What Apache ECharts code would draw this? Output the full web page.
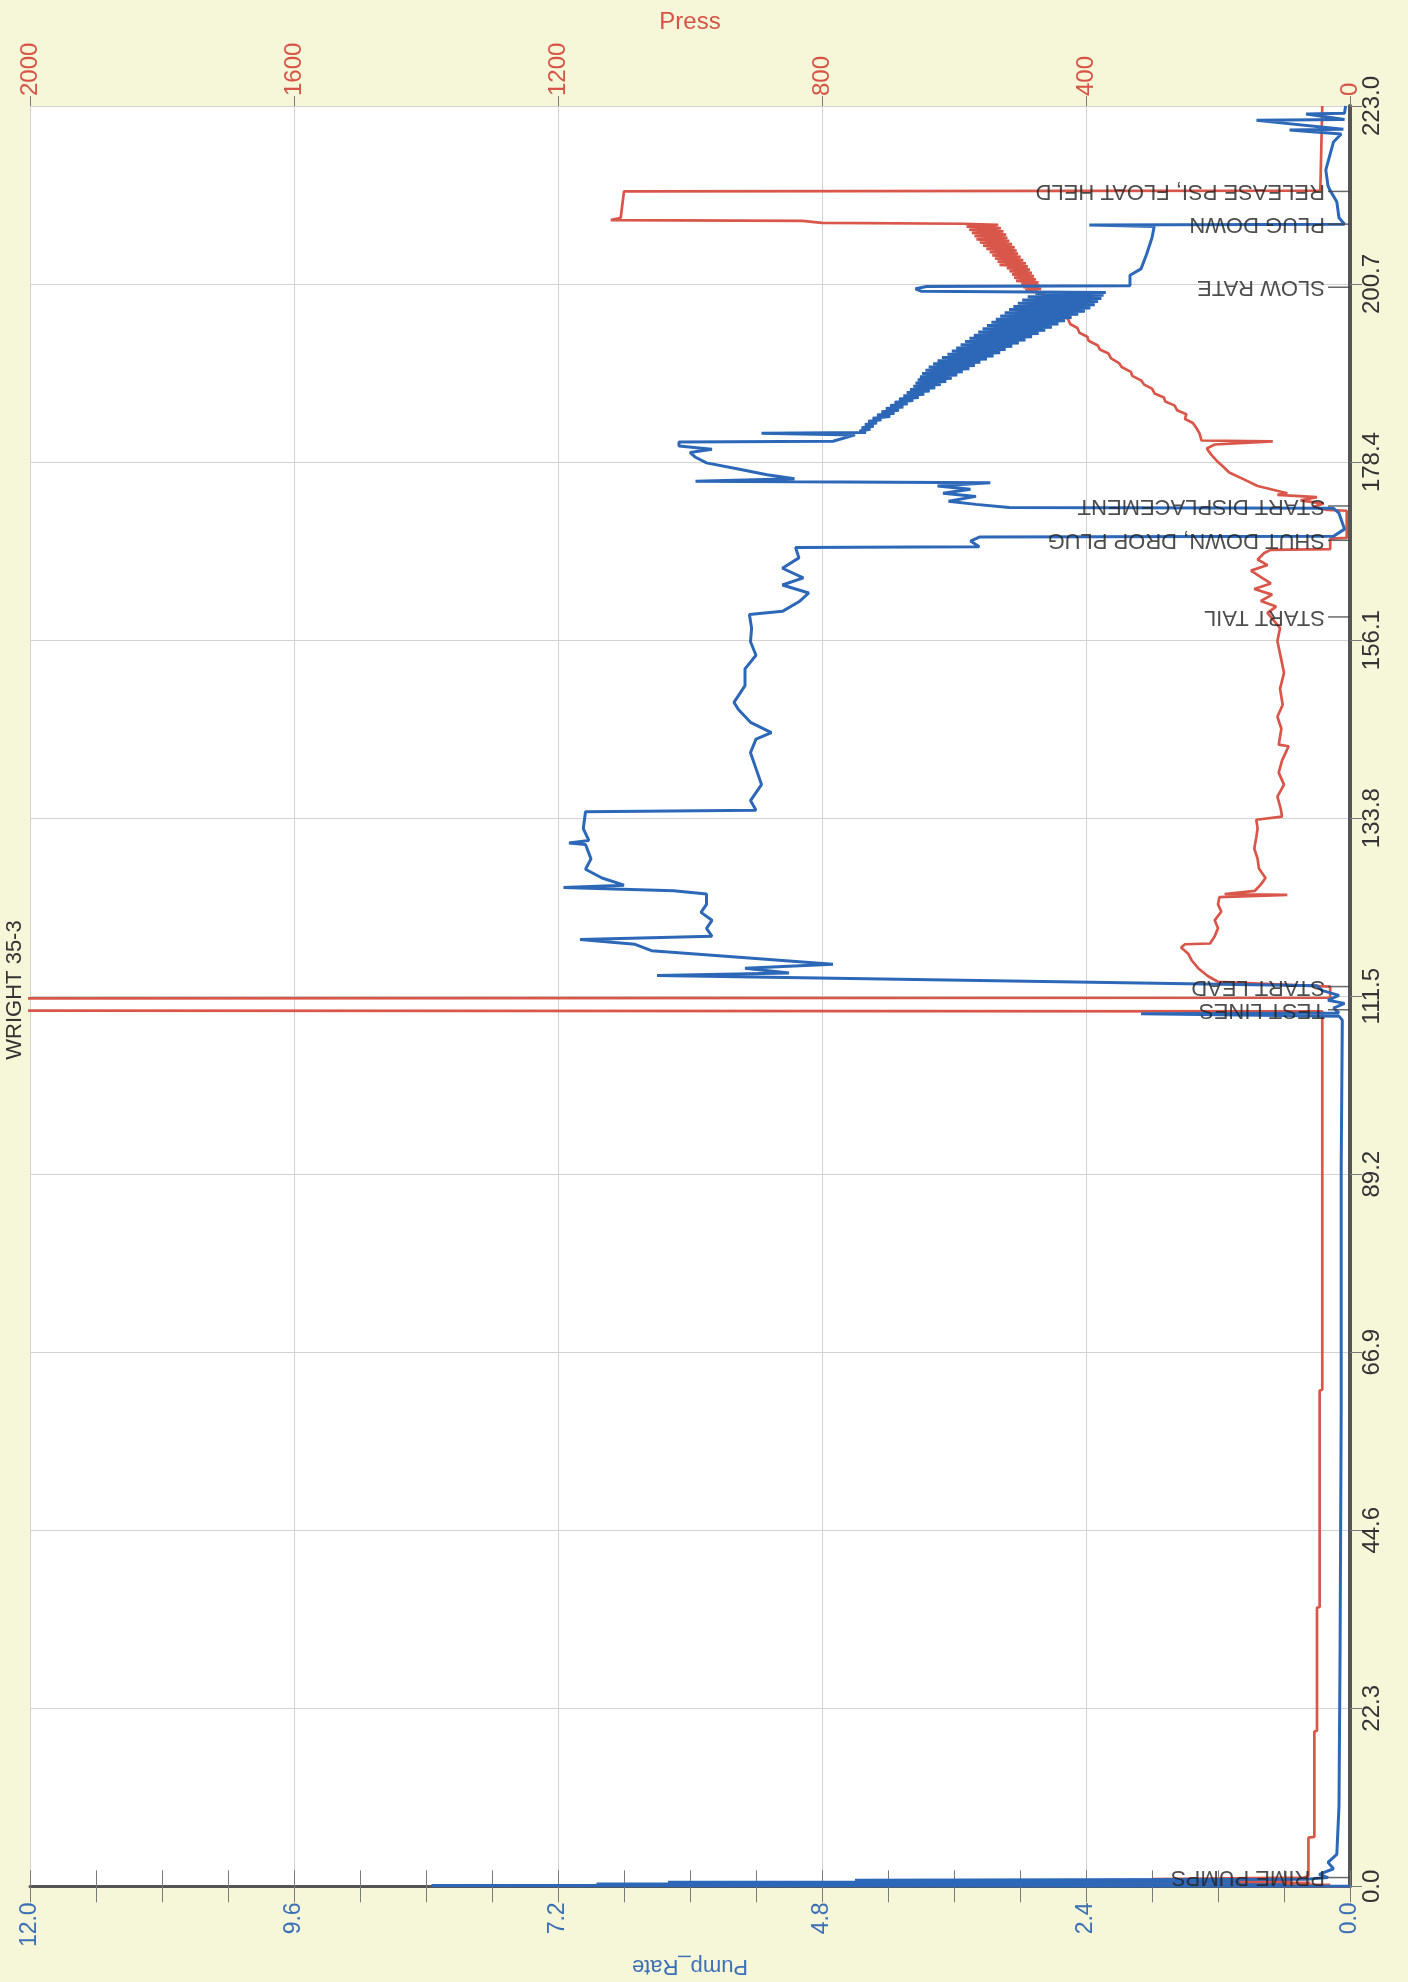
<!DOCTYPE html>
<html>
<head>
<meta charset="utf-8">
<title>WRIGHT 35-3</title>
<script src="https://cdn.jsdelivr.net/npm/echarts@6/dist/echarts.min.js"></script>
<style>
  html, body { margin: 0; padding: 0; background: #f6f6d8; }
  #main { width: 1408px; height: 1982px; }
</style>
</head>
<body>
<div id="main"></div>
<script>
// chart is drawn "sideways": time runs up the right side, values run right-to-left
const timeMax = 223.0;
const timeStep = 22.3;
const pumpMax = 12;
const pumpStep = 2.4;
const pressMax = 2000;
const pressStep = 400;

// [time, pump rate]
const pumpPoints = [
  [0.0, 0.0], [0.1, 8.35], [0.2, 0.6], [0.3, 6.85], [0.4, 2.6], [0.5, 6.2], [0.6, 1.0],
  [0.75, 4.5], [0.9, 0.4], [1.1, 0.2], [1.5, 0.28], [2.2, 0.15], [3.0, 0.2], [4.0, 0.12],
  [10.0, 0.1], [30.0, 0.09], [60.0, 0.08], [90.0, 0.08], [108.5, 0.07],
  [109.0, 0.1], [109.3, 1.9], [109.4, 0.1], [110.0, 0.15], [110.6, 0.05], [111.0, 0.2],
  [111.6, 0.1], [112.2, 0.25], [112.8, 0.3],
  [114.1, 6.3], [114.4, 5.1], [115.0, 5.5], [115.5, 4.7], [117.2, 6.35], [118.0, 6.5],
  [118.6, 7.0], [119.0, 5.8], [120.0, 5.85], [121.0, 5.8], [122.0, 5.9], [123.0, 5.85],
  [124.3, 5.85], [124.7, 6.15], [125.1, 7.15], [125.4, 6.6], [126.3, 6.8], [127.4, 6.95],
  [128.7, 6.9], [130.5, 6.95], [130.7, 7.1], [131.0, 6.92], [132.5, 6.97], [134.6, 6.95],
  [134.8, 5.4], [136.0, 5.45], [138.0, 5.35], [140.0, 5.4], [142.0, 5.45], [143.7, 5.4],
  [144.5, 5.26], [145.8, 5.45], [147.4, 5.56], [148.3, 5.6], [150.4, 5.5], [152.5, 5.5],
  [154.2, 5.4], [155.9, 5.45], [157.6, 5.44], [159.3, 5.46], [159.7, 5.16], [160.9, 5.01],
  [162.0, 4.92], [163.0, 5.16], [163.9, 4.97], [165.1, 5.16], [166.4, 5.01], [167.7, 5.04],
  [167.8, 3.37], [168.5, 3.45], [169.0, 3.37], [169.1, 0.15], [170.0, 0.05], [172.0, 0.1],
  [172.6, 0.15], [172.7, 3.1], [173.1, 3.4], [173.5, 3.65], [174.1, 3.4], [174.5, 3.7],
  [175.0, 3.45], [175.4, 3.75], [175.8, 3.27], [176.0, 5.95], [176.3, 5.05], [176.8, 5.3],
  [177.5, 5.55], [178.3, 5.85], [179.0, 5.95], [179.6, 6.0], [180.0, 5.8], [180.4, 6.1],
  [180.9, 6.1], [181.0, 4.7], [181.8, 4.5], [182.0, 5.35], [182.1, 4.4],
  // displacement: rate swings fast, reads as a wedge
  [182.3, 4.46], [182.5, 4.36], [182.7, 4.44], [182.9, 4.33], [183.1, 4.41], [183.3, 4.30],
  [183.5, 4.38], [183.7, 4.26], [183.9, 4.34], [184.1, 4.18], [184.3, 4.30], [184.5, 4.14],
  [184.7, 4.26], [184.9, 4.10], [185.1, 4.22], [185.3, 4.06], [185.5, 4.18], [185.7, 4.02],
  [185.9, 4.14], [186.1, 3.97], [186.3, 4.10], [186.5, 3.92], [186.7, 4.06], [186.9, 3.87],
  [187.1, 4.03], [187.3, 3.82], [187.5, 4.00], [187.7, 3.77], [187.9, 3.97], [188.1, 3.72],
  [188.3, 3.95], [188.5, 3.67], [188.7, 3.93], [188.9, 3.62], [189.1, 3.91], [189.3, 3.57],
  [189.5, 3.89], [189.7, 3.52], [189.9, 3.86], [190.1, 3.46], [190.3, 3.83], [190.5, 3.41],
  [190.7, 3.79], [190.9, 3.36], [191.1, 3.75], [191.3, 3.30], [191.5, 3.71], [191.7, 3.24],
  [191.9, 3.66], [192.1, 3.18], [192.3, 3.62], [192.5, 3.13], [192.7, 3.58], [192.9, 3.07],
  [193.1, 3.54], [193.3, 3.01], [193.5, 3.50], [193.7, 2.95], [193.9, 3.46], [194.1, 2.89],
  [194.3, 3.42], [194.5, 2.83], [194.7, 3.38], [194.9, 2.77], [195.1, 3.34], [195.3, 2.71],
  [195.5, 3.30], [195.7, 2.65], [195.9, 3.26], [196.1, 2.59], [196.3, 3.22], [196.5, 2.53],
  [196.7, 3.18], [196.9, 2.47], [197.1, 3.14], [197.3, 2.41], [197.5, 3.10], [197.7, 2.36],
  [197.9, 3.06], [198.1, 2.32], [198.3, 3.02], [198.5, 2.29], [198.7, 2.98], [198.9, 2.26],
  [199.1, 2.93], [199.3, 2.24], [199.5, 2.86], [199.65, 2.22],
  [199.8, 3.9], [200.1, 3.95], [200.4, 3.85], [200.5, 2.0], [201.8, 2.0], [202.6, 1.9],
  [204.4, 1.85], [206.5, 1.8], [207.9, 1.78], [208.1, 2.37], [208.2, 0.05], [209.0, 0.1],
  [211.0, 0.12], [212.4, 0.18], [213.0, 0.2], [215.0, 0.22], [217.0, 0.18], [218.5, 0.15],
  [219.5, 0.08], [220.0, 0.55], [220.1, 0.06], [221.2, 0.85], [221.3, 0.05], [222.0, 0.4],
  [222.1, 0.05], [223.0, 0.04]
];

// [time, pressure]
const pressPoints = [
  [0.0, 0], [0.1, 250], [0.2, 30], [0.3, 520], [0.45, 60], [0.6, 380], [0.75, 90],
  [0.9, 300], [1.1, 70], [1.3, 63], [6.1, 63], [6.2, 54], [19.4, 54], [19.5, 50],
  [34.9, 50], [35.0, 46], [62.1, 46], [62.2, 42], [109.6, 42],
  [109.7, 2600], [111.2, 2600], // line test, off scale
  [111.3, 30], [112.7, 30], [113.3, 200], [114.0, 215], [115.0, 230], [116.0, 240],
  [116.8, 245], [117.6, 256], [118.0, 250], [118.1, 212], [119.0, 205], [120.0, 200],
  [121.0, 205], [122.1, 195], [123.0, 200], [123.9, 198], [124.2, 95], [124.3, 190],
  [124.7, 144], [125.5, 135], [126.3, 128], [127.5, 138], [128.7, 140], [130.0, 145],
  [131.4, 142], [132.5, 140], [133.6, 142], [134.0, 103], [135.0, 105], [136.5, 110],
  [138.0, 100], [139.5, 108], [141.0, 103], [142.8, 93], [143.0, 108], [145.0, 104],
  [146.5, 110], [148.0, 102], [150.0, 106], [152.0, 100], [154.0, 105], [156.0, 110],
  [157.6, 106], [158.5, 115], [159.5, 125], [160.3, 112], [161.0, 135], [161.8, 118],
  [162.5, 145], [163.2, 120], [164.0, 135], [164.8, 150], [165.5, 125], [166.2, 140],
  [167.0, 130], [167.4, 120], [167.5, 30], [168.8, 30], [168.9, 5], [172.3, 5],
  [172.4, 35], [172.8, 55], [173.2, 40], [173.6, 75], [174.0, 50], [174.3, 110],
  [174.5, 95], [175.4, 140], [176.2, 160], [177.1, 183], [177.8, 192], [178.4, 200],
  [179.3, 210], [180.1, 217], [180.6, 205], [181.0, 117], [181.1, 225], [182.0, 228],
  [182.7, 233], [183.3, 238], [183.8, 250], [184.4, 248], [184.9, 262], [185.5, 266],
  [186.0, 280], [186.5, 282], [187.0, 296], [187.6, 300], [188.1, 312], [188.6, 316],
  [189.2, 330], [189.7, 332], [190.3, 346], [190.8, 350], [191.4, 362], [192.0, 366],
  [192.5, 379], [193.0, 382], [193.6, 396], [194.1, 398], [194.6, 410], [195.2, 413],
  [195.7, 424], [196.3, 427], [196.8, 437], [197.4, 440], [197.9, 450], [198.4, 452],
  [198.8, 459], [199.3, 462], [199.6, 468],
  // slow rate to plug: pressure swinging
  [199.7, 465], [199.9, 492], [200.1, 468], [200.3, 495], [200.5, 470], [200.7, 498],
  [200.9, 472], [201.1, 506], [201.3, 476], [201.5, 509], [201.7, 479], [201.9, 512],
  [202.1, 482], [202.3, 516], [202.5, 485], [202.7, 520], [202.9, 488], [203.1, 531],
  [203.3, 491], [203.5, 534], [203.7, 495], [203.9, 538], [204.1, 499], [204.3, 542],
  [204.5, 503], [204.7, 546], [204.9, 505], [205.1, 551], [205.3, 508], [205.5, 556],
  [205.7, 512], [205.9, 561], [206.1, 516], [206.3, 566], [206.5, 519], [206.7, 569],
  [206.9, 521], [207.1, 573], [207.3, 525], [207.5, 577], [207.7, 529], [207.9, 581],
  [208.1, 533], [208.25, 585],
  [208.35, 800], [208.6, 830], [208.7, 1120], [209.0, 1105], [212.3, 1100],
  [212.4, 45], [223.0, 42]
];

const eventTime = [1.1, 109.8, 112.7, 159.0, 168.6, 172.9, 200.3, 208.2, 212.3];
const eventName = [
  'PRIME PUMPS', 'TEST LINES', 'START LEAD', 'START TAIL', 'SHUT DOWN, DROP PLUG',
  'START DISPLACEMENT', 'SLOW RATE', 'PLUG DOWN', 'RELEASE PSI, FLOAT HELD'
];

const FONT = '"Liberation Sans", Arial, sans-serif';
const BLUE = '#2d68b8';
const RED = '#d9574a';
const BLUE_TXT = '#3b6fb6';
const RED_TXT = '#d65446';
const GRID = '#d2d2d2';
const TICK = '#7a7a7a';

const chart = echarts.init(document.getElementById('main'));

const pumpData = pumpPoints.map(p => [p[1], p[0]]);
const pressData = pressPoints.map(p => [p[1], p[0]]);
const eventData = eventTime.map((t, i) => ({ name: eventName[i], value: [0, t] }));

const option = {
  backgroundColor: '#f6f6d8',
  animation: false,
  textStyle: { fontFamily: FONT },
  grid: {
    left: 30, right: 58, top: 106, bottom: 84,
    show: true, backgroundColor: '#ffffff', borderWidth: 0
  },
  graphic: [{
    type: 'text',
    x: 15,
    y: 990,
    rotation: Math.PI / 2,
    style: {
      text: 'WRIGHT 35-3',
      fill: '#333',
      font: '22px ' + FONT,
      align: 'center',
      verticalAlign: 'middle'
    }
  }],
  xAxis: [
    { // pump rate, bottom
      type: 'value', position: 'bottom', inverse: true,
      min: 0, max: pumpMax, interval: pumpStep,
      name: 'Pump_Rate', nameLocation: 'middle', nameGap: 54, nameRotate: 180,
      nameTextStyle: { color: BLUE_TXT, fontSize: 22, fontFamily: FONT },
      axisLine: { show: true, lineStyle: { color: '#555', width: 3 } },
      axisTick: { show: true, inside: true, length: 16, lineStyle: { color: TICK } },
      minorTick: { show: true, splitNumber: 4, length: 16, lineStyle: { color: TICK } },
      axisLabel: {
        rotate: 90, margin: 16, color: BLUE_TXT, fontSize: 23, fontFamily: FONT,
        formatter: v => v.toFixed(1)
      },
      splitLine: { show: true, lineStyle: { color: GRID, width: 1 } }
    },
    { // pressure, top
      type: 'value', position: 'top', inverse: true,
      min: 0, max: pressMax, interval: pressStep,
      name: 'Press', nameLocation: 'middle', nameGap: 66,
      nameTextStyle: { color: RED_TXT, fontSize: 24, fontFamily: FONT },
      axisLine: { show: false },
      axisTick: { show: true, inside: true, length: 16, lineStyle: { color: TICK } },
      minorTick: { show: true, splitNumber: 4, length: 16, lineStyle: { color: TICK } },
      axisLabel: {
        rotate: 90, margin: 10, color: RED_TXT, fontSize: 24, fontFamily: FONT,
        formatter: v => String(v)
      },
      splitLine: { show: false }
    },
    { // short outside ticks under the pump axis
      type: 'value', position: 'bottom', inverse: true,
      min: 0, max: pumpMax, interval: pumpStep,
      axisLine: { show: false },
      axisTick: { show: true, length: 10, lineStyle: { color: TICK } },
      axisLabel: { show: false },
      splitLine: { show: false }
    },
    { // short outside ticks above the pressure axis
      type: 'value', position: 'top', inverse: true,
      min: 0, max: pressMax, interval: pressStep,
      axisLine: { show: false },
      axisTick: { show: true, length: 10, lineStyle: { color: TICK } },
      axisLabel: { show: false },
      splitLine: { show: false }
    }
  ],
  yAxis: [
    { // time
      type: 'value', position: 'right',
      min: 0, max: timeMax, interval: timeStep,
      axisLine: { show: false },
      axisTick: { show: true, length: 12, lineStyle: { color: TICK } },
      axisLabel: {
        rotate: 90, margin: 10, color: '#333', fontSize: 24, fontFamily: FONT,
        formatter: v => v.toFixed(1)
      },
      splitLine: { show: true, lineStyle: { color: GRID, width: 1 } }
    },
    { // dark frame line on the left
      type: 'value', position: 'left',
      min: 0, max: timeMax,
      axisLine: { show: true, lineStyle: { color: '#555', width: 4 } },
      axisTick: { show: false },
      axisLabel: { show: false },
      splitLine: { show: false }
    }
  ],
  series: [
    {
      name: 'Press', type: 'line', xAxisIndex: 1, yAxisIndex: 0,
      data: pressData, symbol: 'none', z: 3,
      lineStyle: { color: RED, width: 2.7 }
    },
    {
      name: 'Pump_Rate', type: 'line', xAxisIndex: 0, yAxisIndex: 0,
      data: pumpData, symbol: 'none', z: 4,
      lineStyle: { color: BLUE, width: 3 }
    },
    {
      name: 'Events', type: 'scatter', xAxisIndex: 0, yAxisIndex: 0,
      data: eventData, silent: true, z: 6,
      symbol: 'rect', symbolSize: [22, 1.5], symbolOffset: [-11, 0],
      itemStyle: { color: '#444' },
      label: {
        show: true, formatter: '{b}', position: 'left', distance: 3,
        rotate: 180, align: 'left', verticalAlign: 'middle',
        color: '#222', fontSize: 22, fontFamily: FONT
      }
    }
  ]
};

chart.setOption(option);
</script>
</body>
</html>
